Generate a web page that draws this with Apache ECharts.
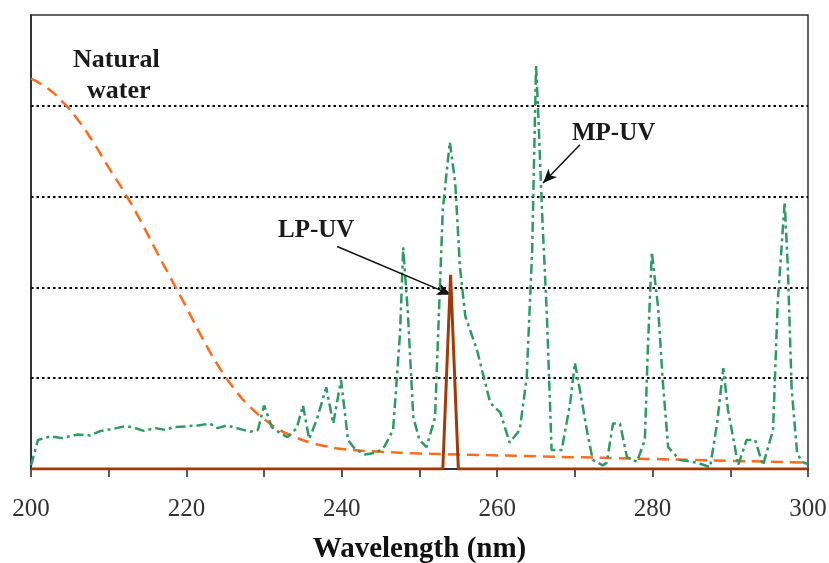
<!DOCTYPE html>
<html>
<head>
<meta charset="utf-8">
<script src="https://cdn.jsdelivr.net/npm/echarts@6/dist/echarts.min.js"></script>
<style>
  html, body { margin: 0; padding: 0; background: #fff; }
  #chart { width: 829px; height: 563px; }
</style>
</head>
<body>
<div id="chart"></div>
<script>
// Absorbance of natural water (dashed curve)
const waterWavelengths = [200, 202, 204, 206, 208, 210, 212, 214, 216, 218, 220, 222, 224, 226, 228, 230, 232, 234, 236, 238, 240, 245, 250, 255, 260, 265, 270, 275, 280, 285, 290, 295, 300];
const waterValues = [4.30, 4.20, 4.05, 3.85, 3.60, 3.32, 3.05, 2.75, 2.42, 2.10, 1.78, 1.45, 1.15, 0.90, 0.70, 0.55, 0.43, 0.35, 0.29, 0.25, 0.22, 0.19, 0.17, 0.16, 0.15, 0.14, 0.13, 0.12, 0.11, 0.10, 0.09, 0.08, 0.07];

// Medium-pressure lamp emission spectrum
const mpWavelengths = [200.0, 200.9, 202.5, 204.0, 206.0, 207.6, 209.0, 210.5, 212.0, 213.1, 214.5, 216.0, 217.3, 218.3, 220.0, 221.5, 223.0, 224.0, 225.2, 226.5, 228.2, 229.2, 230.0, 231.0, 232.0, 233.0, 234.2, 235.0, 235.8, 236.8, 238.0, 238.9, 239.9, 240.8, 241.7, 243.0, 244.5, 245.5, 246.6, 247.5, 247.9, 248.5, 249.2, 250.0, 250.9, 252.0, 253.0, 253.9, 254.6, 255.2, 255.9, 257.4, 259.1, 260.4, 261.6, 262.9, 263.8, 264.5, 265.0, 265.3, 265.8, 266.4, 267.0, 268.3, 269.4, 270.0, 270.7, 271.6, 272.3, 273.6, 274.1, 274.9, 275.8, 276.7, 278.0, 279.0, 279.4, 279.9, 280.3, 280.7, 281.3, 282.0, 283.5, 285.7, 287.4, 288.3, 289.1, 289.7, 290.6, 291.0, 292.1, 293.2, 294.2, 295.5, 296.1, 297.0, 297.4, 297.9, 298.6, 299.2, 300.0];
const mpValues = [0.04, 0.32, 0.36, 0.34, 0.38, 0.37, 0.42, 0.44, 0.47, 0.46, 0.42, 0.45, 0.43, 0.46, 0.47, 0.48, 0.50, 0.45, 0.48, 0.45, 0.41, 0.43, 0.70, 0.46, 0.40, 0.35, 0.45, 0.70, 0.33, 0.55, 0.90, 0.50, 0.98, 0.32, 0.22, 0.16, 0.18, 0.25, 0.43, 1.50, 2.44, 1.72, 0.57, 0.32, 0.24, 0.57, 2.86, 3.60, 3.15, 2.23, 1.68, 1.31, 0.73, 0.62, 0.29, 0.43, 1.01, 2.41, 4.45, 3.88, 2.78, 1.68, 0.21, 0.21, 0.73, 1.17, 0.84, 0.40, 0.10, 0.04, 0.07, 0.50, 0.50, 0.13, 0.08, 0.32, 1.35, 2.39, 2.08, 1.79, 0.98, 0.24, 0.10, 0.07, 0.02, 0.50, 1.11, 0.65, 0.24, 0.04, 0.32, 0.32, 0.04, 0.43, 1.83, 2.94, 2.23, 0.87, 0.18, 0.08, 0.05];

// Low-pressure lamp: single line at 254 nm
const lpWavelengths = [200, 253, 254, 255, 300];
const lpValues = [0, 0, 2.14, 0, 0];

// Axis settings
const xMin = 200, xMax = 300, xStep = 10, xLabelStep = 20;
const yMin = 0, yMax = 5, yStep = 1;

// Annotation arrows, in data coordinates: [from, to]
const lpArrow = [[239.4, 2.45], [254.05, 1.92]];
const mpArrow = [[270.65, 3.57], [265.9, 3.15]];

const zip = (xs, ys) => xs.map((x, i) => [x, ys[i]]);

const serif = '"Liberation Serif", "Times New Roman", serif';
const chart = echarts.init(document.getElementById('chart'), null, { renderer: 'canvas' });

function arrowLine(pair) {
  return [
    { coord: pair[0], symbol: 'none' },
    { coord: pair[1], symbol: 'arrow', symbolSize: [9, 14] }
  ];
}

chart.setOption({
  animation: false,
  backgroundColor: '#fff',
  grid: {
    left: 31, top: 15, right: 21, bottom: 94,
    outerBoundsMode: 'none', containLabel: false,
    show: true, borderColor: '#333', borderWidth: 1.5, backgroundColor: 'transparent'
  },
  xAxis: {
    type: 'value', min: xMin, max: xMax, interval: xStep,
    name: 'Wavelength (nm)', nameLocation: 'middle', nameGap: 66,
    nameTextStyle: { fontFamily: serif, fontWeight: 'bold', fontSize: 29, color: '#111' },
    axisLine: { show: true, lineStyle: { color: '#222', width: 1.5 } },
    axisTick: { show: true, inside: false, length: 8, lineStyle: { color: '#222', width: 1.5 } },
    axisLabel: {
      margin: 28, fontFamily: serif, fontSize: 25, color: '#333',
      formatter: v => (v % xLabelStep === 0 ? String(v) : '')
    },
    splitLine: { show: false }
  },
  yAxis: {
    type: 'value', min: yMin, max: yMax, interval: yStep,
    axisLine: { show: true, lineStyle: { color: '#222', width: 1.5 } },
    axisTick: { show: false },
    axisLabel: { show: false },
    splitLine: {
      show: true,
      lineStyle: {
        color: ['rgba(0,0,0,0)', '#000', '#000', '#000', '#000', 'rgba(0,0,0,0)'],
        width: 2, type: [2.5, 3]
      }
    }
  },
  series: [
    {
      name: 'Natural water', type: 'line', smooth: true, showSymbol: false,
      data: zip(waterWavelengths, waterValues),
      lineStyle: { color: '#FF6B1A', width: 2.5, type: [12, 7] },
      z: 3
    },
    {
      name: 'MP-UV', type: 'line', showSymbol: false,
      data: zip(mpWavelengths, mpValues),
      lineStyle: { color: '#2E9A63', width: 2.5, type: [10, 4, 3, 4] },
      z: 4,
      markLine: {
        silent: true, animation: false,
        label: { show: false },
        lineStyle: { color: '#111', width: 1.5, type: 'solid' },
        data: [arrowLine(mpArrow)]
      }
    },
    {
      name: 'LP-UV', type: 'line', showSymbol: false,
      data: zip(lpWavelengths, lpValues),
      lineStyle: { color: '#A13A0B', width: 3 },
      z: 5,
      markLine: {
        silent: true, animation: false,
        label: { show: false },
        lineStyle: { color: '#111', width: 1.5, type: 'solid' },
        data: [arrowLine(lpArrow)]
      }
    }
  ],
  graphic: [
    { type: 'text', left: 73, top: 47, style: { text: 'Natural', font: 'bold 26px ' + serif, fill: '#1a1a1a' } },
    { type: 'text', left: 87, top: 78, style: { text: 'water', font: 'bold 26px ' + serif, fill: '#1a1a1a' } },
    { type: 'text', left: 278, top: 218, style: { text: 'LP-UV', font: 'bold 25px ' + serif, fill: '#1a1a1a' } },
    { type: 'text', left: 572, top: 121, style: { text: 'MP-UV', font: 'bold 25px ' + serif, fill: '#1a1a1a' } }
  ]
});
</script>
</body>
</html>
